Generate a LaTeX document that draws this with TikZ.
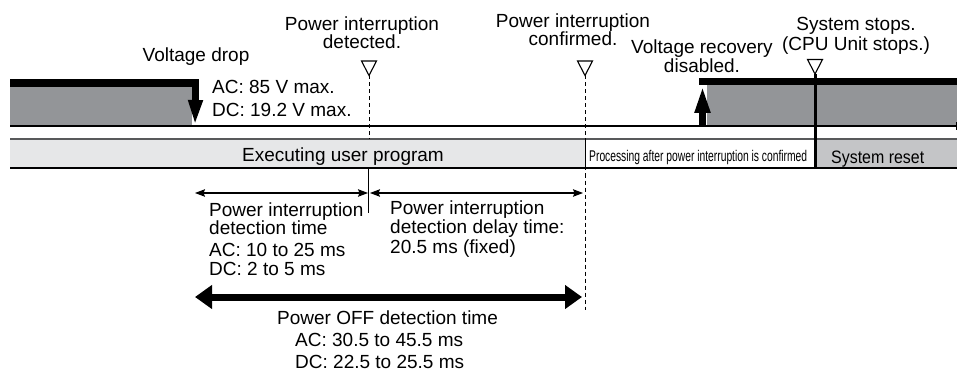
\documentclass[tikz,border=0pt]{standalone}
\usepackage{fontspec}
\setmainfont{Liberation Sans}
\usetikzlibrary{arrows.meta}
\definecolor{vgrey}{HTML}{939598}
\definecolor{exgrey}{HTML}{E6E7E8}
\definecolor{rsgrey}{HTML}{C4C5C7}
\definecolor{lngrey}{HTML}{58595B}
\begin{document}
\begin{tikzpicture}[x=1pt,y=-1pt,
  txt/.style={inner sep=0pt, font=\fontsize{19}{18.5}\selectfont},
  thinarr/.style={line width=1.1, {Stealth[length=10pt,width=7.5pt,inset=1.5pt]}-{Stealth[length=10pt,width=7.5pt,inset=1.5pt]}},
  thickarr/.style={line width=7, {Triangle[length=17pt,width=23pt]}-{Triangle[length=17pt,width=23pt]}},
  dashline/.style={line width=1, dash pattern=on 4pt off 3pt},
  downtri/.pic={\draw[line width=1.1, fill=white, line join=miter] (-7.5,-14.5) -- (7.5,-14.5) -- (0,0) -- cycle;}
]
\useasboundingbox (0,0) rectangle (957,374);

% coordinates
\coordinate (detT) at (369,75.5);
\coordinate (detB) at (369,139);
\coordinate (detS) at (368.5,168);
\coordinate (detE) at (368.5,213);
\coordinate (cnfT) at (585,75.5);
\coordinate (cnfB) at (585,310);
\coordinate (stpT) at (815,74);
\coordinate (stpB) at (815,168);

% voltage waveform
\fill[vgrey] (10,87) rectangle (191.5,126);
\fill[vgrey] (707,85) rectangle (957,126);
\draw[line width=1.3] (10,126) -- (957,126);
\draw[line width=1] (956,122.5) -- (956,130.5);
\draw[line width=7.5, line join=miter] (10,83) -- (195.5,83) -- (195.5,102);
\coordinate (dropS) at (195.5,100);
\coordinate (dropE) at (195,126);
\draw[line width=7, -{Triangle[length=26pt,width=13pt]}] (dropS) -- (dropE);
\coordinate (recS) at (702.5,126);
\coordinate (recE) at (702.5,85);
\draw[line width=7.5] (699,81.5) -- (957,81.5);
\draw[line width=7, -{Triangle[length=28pt,width=14pt]}] (recS) -- (recE);

% execution bar
\fill[exgrey] (10,139.5) rectangle (585,168);
\fill[white] (585,139.5) rectangle (815,168);
\fill[rsgrey] (815,139.5) rectangle (957,168);
\draw[line width=2, lngrey] (10,139.5) -- (957,139.5);
\draw[line width=1.5] (10,168) -- (957,168);
\draw[line width=1] (585,139.5) -- (585,168);

% markers and time lines
\draw[dashline] (detT) -- (detB);
\draw[line width=1.2] (detS) -- (detE);
\draw[dashline] (cnfT) -- (cnfB);
\draw[line width=3] (stpT) -- (stpB);
\pic at (detT) {downtri};
\pic at (cnfT) {downtri};
\pic at (stpT) {downtri};

% texts (multi-line nodes: base = baseline of last line)
\node[txt, anchor=base, align=center] (vd) at (196,62) {Voltage drop};
\node[txt, anchor=base west, align=left] (vmax) at (212,116.7) {AC: 85 V max.\\[4.5pt]DC: 19.2 V max.};
\node[txt, anchor=base, align=center] (pid) at (362,49) {Power interruption\\detected.};
\node[txt, anchor=base, align=center] (pic) at (573,45.7) {Power interruption\\confirmed.};
\node[txt, anchor=base, align=center] (vr) at (702,72.7) {Voltage recovery\\[1pt]disabled.};
\node[txt, anchor=base, align=center] (ss) at (856,50.7) {System stops.\\[1.5pt](CPU Unit stops.)};
\node[txt, anchor=base] (exe) at (343,161.5) {Executing user program};
\node[txt, anchor=base west] (proc) at (589,161) {\resizebox{218pt}{\height}{\fontsize{15.5}{15.5}\selectfont Processing after power interruption is confirmed}};
\node[txt, anchor=base west] (rst) at (831,163.5) {\resizebox{93pt}{\height}{\fontsize{18}{18}\selectfont System reset}};

% time spans
\coordinate (a1) at (195,193);
\coordinate (a2) at (368,193);
\coordinate (b1) at (370,193);
\coordinate (b2) at (583,193);
\coordinate (c1) at (195,297);
\coordinate (c2) at (582,297);
\draw[thinarr] (a1) -- (a2);
\draw[thinarr] (b1) -- (b2);
\draw[thickarr] (c1) -- (c2);

\node[txt, anchor=base west, align=left] (pidt) at (209,275) {Power interruption\\detection time\\[3.5pt]AC: 10 to 25 ms\\DC: 2 to 5 ms};
\node[txt, anchor=base west, align=left] (pidd) at (390,253) {Power interruption\\detection delay time:\\[1.5pt]20.5 ms (fixed)};
\node[txt, anchor=base west, align=left] (poff) at (277,368) {Power OFF detection time\\[3.5pt]\hspace*{18pt}AC: 30.5 to 45.5 ms\\[3pt]\hspace*{18pt}DC: 22.5 to 25.5 ms};
\end{tikzpicture}
\end{document}
